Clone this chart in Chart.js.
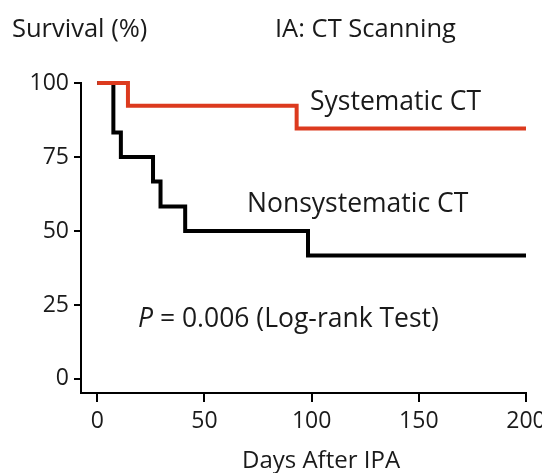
<!DOCTYPE html>
<html>
<head>
<meta charset="utf-8">
<script src="https://cdn.jsdelivr.net/npm/chart.js@4/dist/chart.umd.min.js"></script>
<style>
  html, body { margin: 0; padding: 0; background: #fff; }
  #box { width: 542px; height: 473px; }
</style>
</head>
<body>
<div id="box"><canvas id="myChart"></canvas></div>
<script>
// survival data (days, percent)
const systematicDays = [0, 14.3, 93, 200];
const systematicSurv = [100, 92.3, 84.6, 84.6];
const nonsystDays = [0, 7.5, 11, 26, 29.5, 41, 98.3, 200];
const nonsystSurv = [100, 83.3, 75, 66.7, 58.3, 50, 41.7, 41.7];
const xTicks = [0, 50, 100, 150, 200];
const yTicks = [0, 25, 50, 75, 100];

const font = "'Open Sans', 'Noto Sans', sans-serif";
const ink = "#1a1a1a";

function toPoints(days, surv) {
    let pts = [];
    for (let n = 0; n < days.length; n++) {
        pts.push({ x: days[n], y: surv[n] });
    }
    return pts;
}

// labels drawn as plain text on top of the chart
const textPlugin = {
    id: "labels",
    afterDraw(chart) {
        const ctx = chart.ctx;
        ctx.save();
        ctx.fillStyle = ink;
        ctx.textBaseline = "alphabetic";
        ctx.textAlign = "left";
        ctx.font = "25.5px " + font;
        ctx.fillText("Survival (%)", 12, 37);
        ctx.fillText("IA: CT Scanning", 275, 37);
        ctx.font = "26.5px " + font;
        ctx.fillText("Systematic CT", 310, 110);
        ctx.fillText("Nonsystematic CT", 247, 212);
        ctx.font = "24px " + font;
        ctx.fillText("Days After IPA", 242, 468);
        ctx.font = "italic 26.5px " + font;
        ctx.fillText("P", 138, 327);
        let w = ctx.measureText("P").width;
        ctx.font = "26.5px " + font;
        ctx.fillText(" = 0.006 (Log-rank Test)", 138 + w, 327);
        ctx.restore();
    }
};

const config = {
    type: "line",
    data: {
        datasets: [{
            label: "Systematic CT",
            data: toPoints(systematicDays, systematicSurv),
            borderColor: "#dc3a1e",
            borderWidth: 4,
            stepped: true,
            pointRadius: 0,
            clip: false,
            order: 0
        }, {
            label: "Nonsystematic CT",
            data: toPoints(nonsystDays, nonsystSurv),
            borderColor: "#000000",
            borderWidth: 4,
            stepped: true,
            pointRadius: 0,
            clip: false,
            order: 1
        }]
    },
    options: {
        responsive: true,
        maintainAspectRatio: false,
        animation: false,
        layout: { padding: { left: 0, right: 16, top: 83, bottom: 0 } },
        plugins: {
            legend: { display: false },
            tooltip: { enabled: false }
        },
        scales: {
            x: {
                type: "linear",
                min: -7.6,
                max: 200,
                afterBuildTicks: (scale) => { scale.ticks = xTicks.map(v => ({ value: v })); },
                afterFit: (scale) => {
                    scale.height = 80;
                    scale.paddingRight = 0;
                    scale.paddingLeft = 0;
                },
                ticks: { color: ink, font: { family: font, size: 23 }, padding: 6 },
                grid: { drawOnChartArea: false, drawTicks: true, tickLength: 9, color: "#000", lineWidth: 2 },
                border: { display: true, color: "#000", width: 2 }
            },
            y: {
                min: -4.75,
                max: 100,
                afterBuildTicks: (scale) => { scale.ticks = yTicks.map(v => ({ value: v })); },
                afterFit: (scale) => {
                    scale.width = 81;
                    scale.paddingTop = 0;
                    scale.paddingBottom = 0;
                },
                ticks: { color: ink, font: { family: font, size: 23 }, padding: 5 },
                grid: { drawOnChartArea: false, drawTicks: true, tickLength: 7, color: "#000", lineWidth: 2 },
                border: { display: true, color: "#000", width: 2 }
            }
        }
    },
    plugins: [textPlugin]
};

new Chart(document.getElementById("myChart"), config);
</script>
</body>
</html>
